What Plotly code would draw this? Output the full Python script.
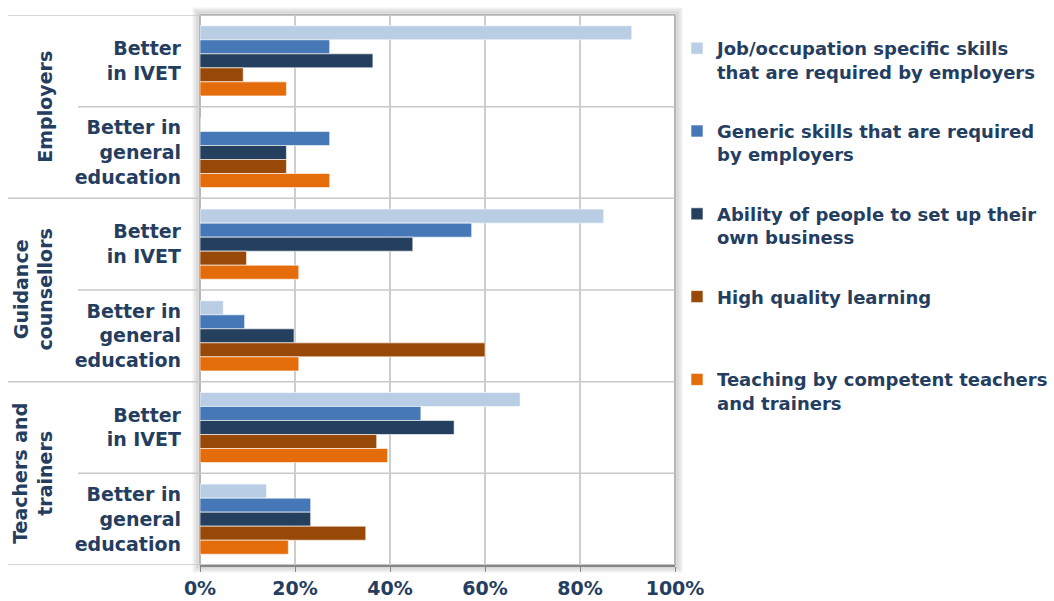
import plotly.graph_objects as go

# ---- data ----
categories = ["Better<br>in IVET", "Better in<br>general<br>education",
              "Better<br>in IVET", "Better in<br>general<br>education",
              "Better<br>in IVET", "Better in<br>general<br>education"]
groups = ["Employers", "Guidance<br>counsellors", "Teachers and<br>trainers"]
series_names = [
    "Job/occupation specific skills<br>that are required by employers",
    "Generic skills that are required<br>by employers",
    "Ability of people to set up their<br>own business",
    "High quality learning<br> ",
    "Teaching by competent teachers<br>and trainers",
]
job_specific = [90.9, 0.0, 85.0, 4.9, 67.4, 14.0]
generic = [27.3, 27.3, 57.2, 9.4, 46.5, 23.3]
ability = [36.4, 18.2, 44.8, 19.8, 53.5, 23.3]
high_quality = [9.1, 18.2, 9.8, 60.0, 37.2, 34.9]
teaching = [18.2, 27.3, 20.8, 20.8, 39.5, 18.6]
x_ticks = [0, 20, 40, 60, 80, 100]
x_ticklabels = ["0%", "20%", "40%", "60%", "80%", "100%"]

series_values = [job_specific, generic, ability, high_quality, teaching]
colors = ["#B9CDE5", "#4678B8", "#25405F", "#984807", "#E46C0A"]
TXT = "#253E5F"
FONT = "DejaVu Sans, Verdana, sans-serif"
FS = 19

W, H = 1054, 601
L, R, T, B = 200, 675, 15, 565

fig = go.Figure()
ypos = list(range(len(categories)))
for i, (name, vals) in enumerate(zip(series_names, series_values)):
    fig.add_trace(go.Bar(
        y=ypos, x=vals, name=name, orientation="h",
        marker=dict(color=colors[i], line=dict(color="rgba(255,255,255,0.6)", width=1)),
        legendgroup=f"g{i}",
    ))

fig.update_layout(
    width=W, height=H,
    margin=dict(l=L, r=W - R, t=T, b=H - B, pad=0, autoexpand=False),
    barmode="group", bargap=0.235, bargroupgap=0,
    plot_bgcolor="white", paper_bgcolor="white",
    font=dict(family=FONT, size=FS, color=TXT, weight="bold"),
    showlegend=True,
    legend=dict(x=(677 - L) / (R - L), xanchor="left",
                y=1.0 - (30 - T) / (B - T), yanchor="top",
                valign="top", tracegroupgap=33, itemwidth=30,
                font=dict(family=FONT, size=18, color=TXT, weight="bold"),
                bgcolor="rgba(0,0,0,0)"),
    xaxis=dict(range=[0, 100], tickvals=x_ticks, ticktext=x_ticklabels,
               showgrid=True, gridcolor="#CDCDCD", gridwidth=1.5,
               showline=True, linecolor="#868686", linewidth=2,
               ticks="outside", ticklen=5, tickcolor="#868686",
               tickfont=dict(family=FONT, size=FS, color=TXT, weight="bold"),
               zeroline=False, fixedrange=True, automargin=False),
    yaxis=dict(range=[5.5, -0.5], tickvals=ypos, ticktext=categories,
               showgrid=False, zeroline=False, ticks="", showline=False,
               ticklabelstandoff=18, automargin=False,
               tickfont=dict(family=FONT, size=FS, color=TXT, weight="bold"),
               fixedrange=True),
)

shapes = []
# soft shadow/glow around plot area
for k, a in [(6, 0.05), (4, 0.08), (2, 0.12)]:
    shapes.append(dict(type="rect", xref="paper", yref="paper",
                       x0=-k / (R - L), x1=1 + k / (R - L),
                       y0=-k / (B - T), y1=1 + k / (B - T),
                       line=dict(color=f"rgba(0,0,0,{a})", width=3), layer="below"))
shapes.append(dict(type="rect", xref="paper", yref="paper", x0=0, x1=1, y0=0, y1=1,
                   line=dict(color="#A0A0A0", width=1.5), layer="below"))
# category separators
for b in [-0.5, 1.5, 3.5, 5.5]:
    shapes.append(dict(type="line", xref="paper", yref="y",
                       x0=-(L - 8) / (R - L), x1=1, y0=b, y1=b,
                       line=dict(color="#C8C8C8", width=1.5), layer="below"))
for b in [0.5, 2.5, 4.5]:
    shapes.append(dict(type="line", xref="paper", yref="y",
                       x0=-(L - 78) / (R - L), x1=1, y0=b, y1=b,
                       line=dict(color="#C8C8C8", width=1.5), layer="below"))
fig.update_layout(shapes=shapes)

# group labels (rotated)
for gi, g in enumerate(groups):
    fig.add_annotation(xref="paper", yref="y", x=-(L - 58) / (R - L), y=gi * 2 + 0.5,
                       text=g, textangle=-90, showarrow=False,
                       font=dict(family=FONT, size=FS, color=TXT, weight="bold"),
                       xanchor="right", yanchor="middle", align="center")

fig.write_html("out.html", config={"displayModeBar": False},
               post_script="document.body.style.margin='0px';")
